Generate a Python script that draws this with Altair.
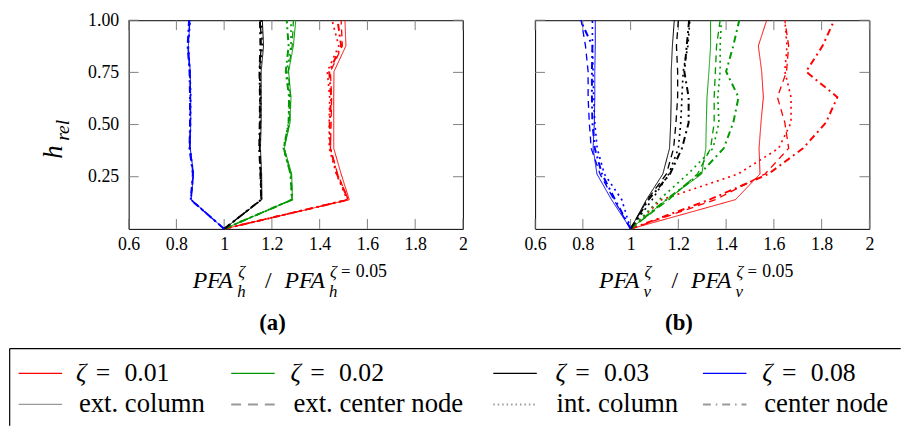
import altair as alt
import pandas as pd

# ---------------- data ----------------
H_REL = [0, 0.14, 0.263, 0.386, 0.509, 0.631, 0.754, 0.877, 1.0]
ZETAS = ["ζ = 0.01", "ζ = 0.02", "ζ = 0.03", "ζ = 0.08"]
LOCS = ["ext. column", "ext. center node", "int. column", "center node"]
X_TICKS = [0.6, 0.8, 1.0, 1.2, 1.4, 1.6, 1.8, 2.0]
Y_TICKS = [0.25, 0.5, 0.75, 1.0]

# panel (a): PFA_h ratio, order of lists = LOCS
A_Z001 = [[1, 1.524, 1.49, 1.459, 1.459, 1.459, 1.46, 1.51, 1.506],
          [1, 1.52, 1.475, 1.445, 1.448, 1.45, 1.445, 1.495, 1.49],
          [1, 1.515, 1.47, 1.44, 1.44, 1.442, 1.432, 1.48, 1.452],
          [1, 1.52, 1.472, 1.445, 1.442, 1.448, 1.44, 1.49, 1.475]]
A_Z002 = [[1, 1.286, 1.283, 1.252, 1.276, 1.28, 1.27, 1.29, 1.30],
          [1, 1.284, 1.28, 1.25, 1.274, 1.278, 1.268, 1.285, 1.29],
          [1, 1.283, 1.278, 1.248, 1.27, 1.275, 1.262, 1.28, 1.28],
          [1, 1.285, 1.278, 1.25, 1.27, 1.272, 1.258, 1.27, 1.262]]
A_Z003 = [[1, 1.158, 1.157, 1.152, 1.155, 1.155, 1.155, 1.165, 1.16],
          [1, 1.155, 1.152, 1.148, 1.15, 1.15, 1.148, 1.155, 1.152],
          [1, 1.156, 1.153, 1.15, 1.152, 1.153, 1.15, 1.16, 1.155],
          [1, 1.155, 1.152, 1.147, 1.149, 1.15, 1.148, 1.152, 1.15]]
A_Z008 = [[1, 0.862, 0.872, 0.858, 0.86, 0.86, 0.858, 0.85, 0.857],
          [1, 0.86, 0.87, 0.855, 0.858, 0.858, 0.856, 0.848, 0.856],
          [1, 0.861, 0.871, 0.857, 0.859, 0.86, 0.857, 0.85, 0.858],
          [1, 0.86, 0.869, 0.855, 0.857, 0.857, 0.855, 0.847, 0.853]]

# panel (b): PFA_v ratio
B_Z001 = [[1, 1.439, 1.542, 1.538, 1.546, 1.556, 1.549, 1.535, 1.57],
          [1, 1.355, 1.563, 1.662, 1.646, 1.615, 1.653, 1.662, 1.646],
          [1, 1.13, 1.45, 1.62, 1.672, 1.672, 1.646, 1.655, 1.646],
          [1, 1.33, 1.577, 1.722, 1.818, 1.866, 1.735, 1.804, 1.853]]
B_Z002 = [[1, 1.15, 1.298, 1.315, 1.317, 1.32, 1.328, 1.335, 1.335],
          [1, 1.16, 1.28, 1.335, 1.35, 1.35, 1.355, 1.36, 1.375],
          [1, 1.12, 1.24, 1.345, 1.37, 1.365, 1.375, 1.375, 1.38],
          [1, 1.15, 1.29, 1.39, 1.43, 1.452, 1.40, 1.43, 1.455]]
B_Z003 = [[1, 1.066, 1.135, 1.163, 1.168, 1.17, 1.17, 1.175, 1.183],
          [1, 1.07, 1.15, 1.18, 1.19, 1.197, 1.197, 1.192, 1.2],
          [1, 1.09, 1.16, 1.2, 1.21, 1.215, 1.22, 1.24, 1.248],
          [1, 1.075, 1.165, 1.215, 1.243, 1.243, 1.225, 1.235, 1.245]]
B_Z008 = [[1, 0.92, 0.859, 0.843, 0.848, 0.85, 0.85, 0.852, 0.852],
          [1, 0.93, 0.872, 0.835, 0.827, 0.822, 0.822, 0.811, 0.793],
          [1, 0.963, 0.89, 0.86, 0.85, 0.845, 0.843, 0.84, 0.84],
          [1, 0.935, 0.88, 0.85, 0.84, 0.838, 0.838, 0.84, 0.79]]

# ---------------- styles ----------------
COLORS = ["#ff0000", "#009900", "#000000", "#0000ff"]
DASHES = [[1, 0], [7, 5], [2, 4], [7, 4, 2, 4]]
WIDTHS = [1.0, 2.0, 2.2, 2.0]
LEG_DASHES = [[1, 0], [10, 7], [1.5, 3], [8, 5, 1.5, 5]]
FONT = "Liberation Serif"
W, HGT = 338, 211
OX, OY = 128.3, 18.0   # page position of panel (a) plot origin


def build_df(series):
    rows = []
    for zeta, lists in zip(ZETAS, series):
        for loc, vals in zip(LOCS, lists):
            for i, (h, v) in enumerate(zip(H_REL, vals)):
                rows.append({"zeta": zeta, "loc": loc, "h": h, "v": v, "idx": i})
    return pd.DataFrame(rows)


def txt(s, x, y, size, style="normal", weight="normal", align="left",
        baseline="alphabetic", angle=0):
    return alt.Chart(pd.DataFrame({"t": [s]})).mark_text(
        text=s, font=FONT, fontSize=size, fontStyle=style, fontWeight=weight,
        align=align, baseline=baseline, angle=angle, color="black"
    ).encode(x=alt.value(x), y=alt.value(y))


def hrule(x1, x2, y, color="black", width=1.0, dash=None):
    kw = dict(color=color, strokeWidth=width)
    if dash is not None:
        kw["strokeDash"] = dash
    return alt.Chart(pd.DataFrame({"t": [0]})).mark_rule(**kw).encode(
        x=alt.value(x1), x2=alt.value(x2), y=alt.value(y))


def vrule(x, y1, y2, color="black", width=1.0):
    return alt.Chart(pd.DataFrame({"t": [0]})).mark_rule(
        color=color, strokeWidth=width).encode(
        x=alt.value(x), y=alt.value(y1), y2=alt.value(y2))


def panel(series, sub, letter, show_y):
    df = build_df(series)
    xs = alt.Scale(domain=[0.6, 2], nice=False, zero=False)
    ys = alt.Scale(domain=[0, 1], nice=False, zero=False)
    xaxis = alt.Axis(values=X_TICKS, format="~g", title=None, grid=False,
                     domain=False, ticks=False, tickSize=0, labelPadding=7,
                     labelFont=FONT, labelFontSize=18, labelColor="black",
                     labelFlush=False, labelOverlap=False)
    if show_y:
        yaxis = alt.Axis(values=Y_TICKS, format=".2f", title=None, grid=False,
                         domain=False, ticks=False, tickSize=0, labelPadding=10,
                         labelFont=FONT, labelFontSize=18, labelColor="black",
                         labelFlush=False, labelOverlap=False)
    else:
        yaxis = None

    lines = alt.Chart(df).mark_line().encode(
        x=alt.X("v:Q", scale=xs, axis=xaxis),
        y=alt.Y("h:Q", scale=ys, axis=yaxis),
        color=alt.Color("zeta:N", scale=alt.Scale(domain=ZETAS, range=COLORS), legend=None),
        strokeDash=alt.StrokeDash("loc:N", scale=alt.Scale(domain=LOCS, range=DASHES), legend=None),
        strokeWidth=alt.StrokeWidth("loc:N", scale=alt.Scale(domain=LOCS, range=WIDTHS), legend=None),
        order="idx:Q",
    )
    xt = pd.DataFrame({"v": X_TICKS})
    yt = pd.DataFrame({"h": Y_TICKS})
    tick_kw = dict(color="#808080", strokeWidth=1)
    t_top = alt.Chart(xt).mark_rule(**tick_kw).encode(
        x=alt.X("v:Q", scale=xs, axis=xaxis), y=alt.value(0), y2=alt.value(10))
    t_bot = alt.Chart(xt).mark_rule(**tick_kw).encode(
        x=alt.X("v:Q", scale=xs, axis=xaxis), y=alt.value(HGT - 10), y2=alt.value(HGT))
    t_left = alt.Chart(yt).mark_rule(**tick_kw).encode(
        y=alt.Y("h:Q", scale=ys, axis=yaxis), x=alt.value(0), x2=alt.value(10))
    t_right = alt.Chart(yt).mark_rule(**tick_kw).encode(
        y=alt.Y("h:Q", scale=ys, axis=yaxis), x=alt.value(W - 10), x2=alt.value(W))

    layers = [t_top, t_bot, t_left, t_right, lines]

    # x-axis title  PFA_sub^ζ / PFA_sub^{ζ=0.05}
    base, bsub, bsup = 271, 280, 259.7
    x0, x1 = 64.7, 157.7
    pw = 45.0
    layers += [
        txt("PFA", x0, base, 24, style="italic"),
        txt(sub, x0 + pw, bsub, 17, style="italic"),
        txt("ζ", x0 + pw + 1, bsup, 17, style="italic"),
        txt("/", 138.0, base, 24),
        txt("PFA", x1, base, 24, style="italic"),
        txt(sub, x1 + pw, bsub, 17, style="italic"),
        txt("ζ", x1 + pw + 1, bsup, 17, style="italic"),
        txt("=", x1 + pw + 12, bsup, 17),
        txt("0.05", x1 + pw + 27, bsup, 18),
        txt(letter, 145.5, 306, 23, weight="bold", align="center", baseline="middle"),
    ]
    return layers


layers_a = panel([A_Z001, A_Z002, A_Z003, A_Z008], "h", "(a)", True)
layers_b = panel([B_Z001, B_Z002, B_Z003, B_Z008], "v", "(b)", False)

# y-axis title h_rel (rotated)
layers_a += [
    txt("h", 61 - OX, 158 - OY, 27, style="italic", angle=270),
    txt("rel", 68 - OX, 140 - OY, 20, style="italic", angle=270),
]

# legend (drawn inside panel (a)'s coordinate frame)
LEG_TOP, LEG_LEFT = 350, 8
ROW_Y = [375, 406.5]
SAMPLE_X = [17, 232, 497, 709]
SAMPLE_LEN = 44
ROW1_TX = [75, 292, 560, 769]
ROW2_TX = [78, 295, 561, 771]
leg = [
    hrule(LEG_LEFT - OX, 909 - OX, LEG_TOP - OY, width=1.2),
    vrule(LEG_LEFT - OX, LEG_TOP - OY, 428 - OY, width=1.2),
]
for i, z in enumerate(ZETAS):
    sx = SAMPLE_X[i] - OX
    y = ROW_Y[0] - OY
    leg.append(hrule(sx, sx + SAMPLE_LEN, y, color=COLORS[i], width=1.3))
    tx = ROW1_TX[i] - OX
    leg.append(txt("ζ", tx, y, 26, style="italic", baseline="middle"))
    leg.append(txt("=", tx + 20, y, 26, baseline="middle"))
    leg.append(txt(z.split("= ")[1], tx + 49, y, 26, baseline="middle"))
for i, loc in enumerate(LOCS):
    sx = SAMPLE_X[i] - OX
    y = ROW_Y[1] - OY
    leg.append(hrule(sx, sx + SAMPLE_LEN, y, color="#999999",
                     width=1.4 if i == 0 else 2.0, dash=LEG_DASHES[i]))
    leg.append(txt(loc, ROW2_TX[i] - OX, y, 27, baseline="middle"))
layers_a += leg

chart_a = alt.layer(*layers_a).properties(width=W, height=HGT)
chart_b = alt.layer(*layers_b).properties(width=W, height=HGT)

chart = alt.hconcat(chart_a, chart_b, spacing=73, bounds="flush").properties(
    padding={"left": 0, "top": 0, "right": 0, "bottom": 0}
).configure_view(stroke="black", strokeWidth=1)

chart.save("out.html", embed_options={"renderer": "svg", "actions": False})
